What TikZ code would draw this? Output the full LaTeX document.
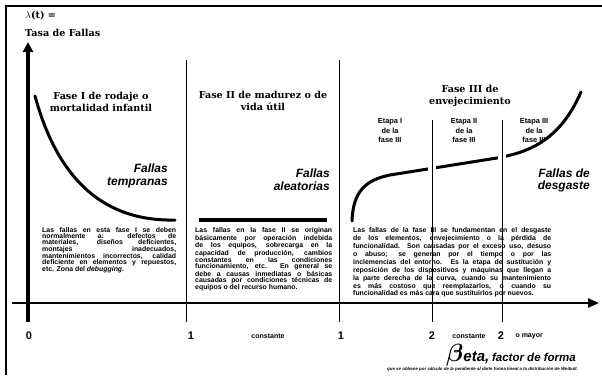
\documentclass[tikz,border=0pt]{standalone}
\usepackage{amsmath}
\usepackage{bm}
\usepackage{fontspec}
\setsansfont{Liberation Sans}
\newfontfamily\titlefont{DejaVu Serif}
\usetikzlibrary{arrows.meta, positioning}

\begin{document}
\begin{tikzpicture}[x=1pt, y=-1pt,
  phasetitle/.style={font=\titlefont\bfseries\fontsize{9.6}{12}\selectfont, align=center},
  failname/.style={font=\sffamily\bfseries\itshape\fontsize{12}{12.5}\selectfont, align=right, anchor=east, inner sep=0pt},
  stagelabel/.style={font=\sffamily\bfseries\fontsize{7.4}{9.5}\selectfont, align=center},
  notes/.style={font=\sffamily\bfseries\fontsize{6.9}{6.1}\selectfont, align=justify, inner sep=0pt, anchor=north west},
  betavalue/.style={font=\sffamily\bfseries\fontsize{11}{12}\selectfont},
  betaword/.style={font=\sffamily\bfseries\fontsize{7}{8}\selectfont},
  divider/.style={line width=0.8pt},
  curve/.style={line width=3pt, line cap=round}
]
\useasboundingbox (0,0) rectangle (602,375);

% frame
\draw[line width=2.5pt] (6,375) -- (6,6) -- (602,6);

% axes
\coordinate (origin) at (28,303);
\coordinate (ytop) at (28,42);
\coordinate (ybottom) at (28,322);
\coordinate (xleft) at (12,303);
\coordinate (xright) at (599,303);
\draw[line width=3.5pt, -{Triangle[length=10pt,width=10pt]}] (ybottom) -- (ytop);
\draw[line width=2.5pt, -{Triangle[length=11pt,width=9pt]}] (xleft) -- (xright);

\node[anchor=west, phasetitle, inner sep=0pt] (lambda) at (25,16) {$\lambda$(t) =};
\node[anchor=west, phasetitle, inner sep=0pt] (rate) at (25,33) {Tasa de Fallas};

% failure rate curve
\draw[curve] (35,96) .. controls (52,158) and (88,222) .. (175,220);
\draw[line width=3.5pt] (199,220) -- (327,220);
\draw[curve] (352,221) .. controls (353,192) and (365,180) .. (390,175)
  -- (497,158) .. controls (530,152) and (560,140) .. (581,92);
\fill[white] (428,150) rectangle (436,182);
\fill[white] (498,145) rectangle (506,168);

% phase dividers
\foreach \xd/\yd in {186/60, 339/60, 432/120, 502/120}
  \draw[divider] (\xd,\yd) -- (\xd,322);

% phase titles
\node[phasetitle] (phaseI) at (101,102) {Fase I de rodaje o\\mortalidad infantil};
\node[phasetitle] (phaseII) at (263,100.5) {Fase II de madurez o de\\vida útil};
\node[phasetitle] (phaseIII) at (470,96) {Fase III de\\envejecimiento};

\node[stagelabel] (stageI) at (390,130.5) {Etapa I\\de la\\fase III};
\node[stagelabel] (stageII) at (464,130.5) {Etapa II\\de la\\fase III};
\node[stagelabel] (stageIII) at (534,130.5) {Etapa III\\de la\\fase III};

\node[failname] (early) at (168,176) {Fallas\\tempranas};
\node[failname] (random) at (330,179.5) {Fallas\\aleatorias};
\node[failname] (wearout) at (590,180.5) {Fallas de\\desgaste};

% notes under each phase
\node[notes, text width=134pt] (notesI) at (42,227.5) {%
  Las fallas en esta fase I se deben\linebreak
  normalmente a: defectos de\linebreak
  materiales, diseños deficientes,\linebreak
  montajes inadecuados,\linebreak
  mantenimientos incorrectos, calidad\linebreak
  deficiente en elementos y repuestos,\linebreak
  etc. Zona del \textit{debugging}.};
\node[notes, text width=137pt] (notesII) at (195,227.5) {%
  Las fallas en la fase II se originan\linebreak
  básicamente por operación indebida\linebreak
  de los equipos, sobrecarga en la\linebreak
  capacidad de producción, cambios\linebreak
  constantes en las condiciones\linebreak
  funcionamiento, etc. En general se\linebreak
  debe a causas inmediatas o básicas\linebreak
  causadas por condiciones técnicas de\linebreak
  equipos o del recurso humano.};
\node[notes, text width=198pt, font=\sffamily\bfseries\fontsize{6.9}{7.9}\selectfont] (notesIII) at (353,227.5) {%
  Las fallas de la fase III se fundamentan en el desgaste\linebreak
  de los elementos, envejecimiento o la pérdida de\linebreak
  funcionalidad. Son causadas por el exceso uso, desuso\linebreak
  o abuso; se generan por el tiempo o por las\linebreak
  inclemencias del entorno. Es la etapa de sustitución y\linebreak
  reposición de los dispositivos y máquinas que llegan a\linebreak
  la parte derecha de la curva, cuando su mantenimiento\linebreak
  es más costoso que reemplazarlos, o cuando su\linebreak
  funcionalidad es más cara que sustituirlos por nuevos.};

% shape factor values
\node[betavalue] (b0) at (29,336) {0};
\node[betavalue] (b1) at (191,336) {1};
\node[betaword] (const1) at (268,336) {constante};
\node[betavalue] (b1b) at (341,336) {1};
\node[betavalue] (b2) at (432,336) {2};
\node[betaword] (const2) at (469,336) {constante};
\node[betavalue] (b2b) at (501,336) {2};
\node[betaword, anchor=west] (more) at (512,336) {o mayor};

\node[anchor=base east, inner sep=0pt, font=\sffamily\bfseries\itshape] (beta) at (576,361)
  {{\fontsize{30}{30}\selectfont$\bm{\beta}$}{\fontsize{15}{15}\selectfont eta,} {\fontsize{11.5}{12}\selectfont factor de forma}};
\node[anchor=base east, inner sep=0pt, font=\sffamily\bfseries\itshape\fontsize{4.4}{5}\selectfont] (betanote) at (578,370)
  {que se obtiene por cálculo de la pendiente al darle forma lineal a la distribución de Weibull.};
\end{tikzpicture}
\end{document}
